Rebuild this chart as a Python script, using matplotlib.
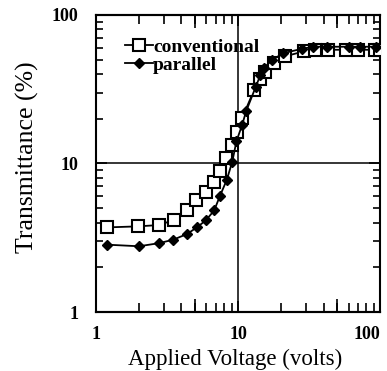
import matplotlib
matplotlib.use("Agg")
import matplotlib.pyplot as plt
from matplotlib.ticker import LogLocator, NullFormatter, FixedLocator, FixedFormatter

conv_v = [1.19, 1.97, 2.80, 3.55, 4.38, 5.06, 5.94, 6.80, 7.44, 8.20, 9.12, 9.89, 10.7,
          13.0, 14.4, 15.6, 17.8, 21.3, 29.0, 35.0, 43.0, 58.0, 70.0, 92.0, 100.0]
conv_t = [3.71, 3.77, 3.85, 4.18, 4.88, 5.70, 6.38, 7.45, 8.84, 10.9, 13.4, 16.4, 20.2,
          31.3, 37.1, 41.1, 47.3, 52.5, 56.7, 58.2, 58.2, 58.2, 58.2, 58.2, 58.2]

par_v = [1.19, 2.01, 2.80, 3.51, 4.38, 5.13, 5.94, 6.80, 7.44, 8.34, 9.12, 9.75, 10.7,
         11.4, 13.3, 14.4, 15.2, 17.4, 20.9, 28.2, 34.0, 42.0, 60.0, 72.0, 94.0]
par_t = [2.84, 2.77, 2.91, 3.07, 3.35, 3.71, 4.14, 4.83, 6.0, 7.76, 10.3, 14.1, 18.2,
         22.4, 32.6, 39.5, 43.8, 49.8, 55.2, 59.1, 61.0, 61.0, 61.0, 61.0, 61.0]

tick_vals = [1, 10, 100]
tick_labels = ["1", "10", "100"]
mid_ticks = [5, 50]

plt.rcParams['font.family'] = ['Liberation Serif', 'DejaVu Serif']

fig = plt.figure(figsize=(3.87, 3.71), dpi=100)
ax = fig.add_axes([0.248, 0.159, 0.734, 0.801])

ax.plot(conv_v, conv_t, color='black', lw=1.3, marker='s', markersize=8.5,
        markerfacecolor='white', markeredgecolor='black', markeredgewidth=1.5,
        label='conventional', zorder=3)
ax.plot(par_v, par_t, color='black', lw=1.3, marker='D', markersize=5.5,
        markerfacecolor='black', markeredgecolor='black',
        label='parallel', zorder=4)

ax.set_xscale('log')
ax.set_yscale('log')
ax.set_xlim(1, 100)
ax.set_ylim(1, 100)

ax.xaxis.set_major_locator(FixedLocator(tick_vals))
ax.xaxis.set_major_formatter(FixedFormatter(tick_labels))
ax.yaxis.set_major_locator(FixedLocator(tick_vals))
ax.yaxis.set_major_formatter(FixedFormatter(tick_labels))
ax.xaxis.set_minor_locator(LogLocator(base=10, subs=range(2, 10)))
ax.yaxis.set_minor_locator(LogLocator(base=10, subs=range(2, 10)))
ax.xaxis.set_minor_formatter(NullFormatter())
ax.yaxis.set_minor_formatter(NullFormatter())

ax.tick_params(which='both', direction='in', top=True, right=True, width=1.2)
ax.tick_params(which='major', length=8, labelsize=13)
ax.tick_params(axis='y', which='major', pad=12.5)
ax.tick_params(axis='x', which='major', pad=10)
ax.tick_params(axis='x', which='minor', length=6.5)
ax.tick_params(axis='y', which='minor', length=5)
for lab in ax.get_xticklabels() + ax.get_yticklabels():
    lab.set_fontweight('bold')
ax.get_xticklabels()[-1].set_horizontalalignment('right')

# medium-length ticks at 5 and 50 on top and bottom
for loc in ('bottom', 'top'):
    sec = ax.secondary_xaxis(loc)
    sec.set_xscale('log')
    sec.xaxis.set_major_locator(FixedLocator(mid_ticks))
    sec.xaxis.set_minor_locator(FixedLocator([]))
    sec.tick_params(which='major', direction='in', length=9.5, width=1.2,
                    labelbottom=False, labeltop=False)
    sec.spines[loc].set_linewidth(1.5)

ax.axvline(10, color='black', lw=1.1, zorder=1)
ax.axhline(10, color='black', lw=1.1, zorder=1)

for s in ax.spines.values():
    s.set_linewidth(1.5)

ax.set_xlabel('Applied Voltage (volts)', fontsize=16.5)
ax.xaxis.set_label_coords(0.49, -0.125)
ax.set_ylabel('Transmittance (%)', fontsize=18.5)
ax.yaxis.set_label_coords(-0.20, 0.52)

leg = ax.legend(loc='upper left', bbox_to_anchor=(0.06, 0.961), frameon=False,
                prop={'weight': 'bold', 'size': 14}, handlelength=1.45,
                handletextpad=0.0, labelspacing=0.05, borderaxespad=0.2)

fig.savefig('out.png', dpi=100)
